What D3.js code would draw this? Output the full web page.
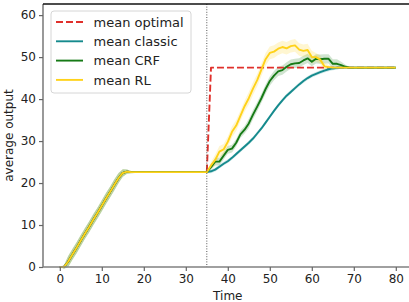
<!DOCTYPE html>
<html>
<head>
<meta charset="utf-8">
<script src="https://cdn.jsdelivr.net/npm/d3@7"></script>
<style>
  html, body { margin: 0; padding: 0; background: #fff; }
  svg { display: block; }
  svg text { font-family: 'DejaVu Sans'; }
</style>
</head>
<body>
<div id="chart"></div>
<script>
// time steps 0..80
const times = d3.range(0, 81);
const xTicks = [0, 10, 20, 30, 40, 50, 60, 70, 80];
const yTicks = [0, 10, 20, 30, 40, 50, 60];
const switchTime = 35;

// shared warm-up phase (t = 0..35)
const warmup = [0, 0, 1.3, 3.0, 4.6, 6.3, 8.0, 9.6, 11.3, 12.9, 14.6, 16.3, 17.9, 19.6, 21.2, 22.4, 22.7, 22.6,
  22.6, 22.6, 22.6, 22.6, 22.6, 22.6, 22.6, 22.6, 22.6, 22.6, 22.6, 22.6, 22.6, 22.6, 22.6, 22.6, 22.6, 22.6];
const warmupErr = [0, 0.4, 1.3, 1.3, 1.3, 1.3, 1.3, 1.3, 1.3, 1.3, 1.3, 1.3, 1.3, 1.3, 1.2, 0.9, 0.5,
  0.25, 0.2, 0.2, 0.2, 0.2, 0.2, 0.2, 0.2, 0.2, 0.2, 0.2, 0.2, 0.2, 0.2, 0.2, 0.2, 0.2, 0.2, 0.2];

// after the switch (t = 36..80)
const optimalPost = [47.5, 47.5, 47.5, 47.5, 47.5, 47.5, 47.5, 47.5, 47.5, 47.5, 47.5, 47.5, 47.5, 47.5, 47.5,
  47.5, 47.5, 47.5, 47.5, 47.5, 47.5, 47.5, 47.5, 47.5, 47.5, 47.5, 47.5, 47.5, 47.5, 47.5,
  47.5, 47.5, 47.5, 47.5, 47.5, 47.5, 47.5, 47.5, 47.5, 47.5, 47.5, 47.5, 47.5, 47.5, 47.5];
const classicPost = [22.8, 23.2, 23.9, 24.6, 25.2, 26.0, 26.9, 27.8, 28.7, 29.6,
  30.6, 31.8, 33.0, 34.4, 35.8, 37.2, 38.5, 39.7, 40.8, 41.7,
  42.6, 43.5, 44.3, 45.0, 45.6, 46.0, 46.4, 46.8, 47.1, 47.3,
  47.45, 47.5, 47.5, 47.5, 47.5, 47.5, 47.5, 47.5, 47.5, 47.5, 47.5, 47.5, 47.5, 47.5, 47.5];
const crfPost = [23.8, 25.1, 25.1, 26.5, 27.9, 28.2, 29.6, 31.6, 32.7, 34.2,
  36.3, 38.2, 40.2, 42.4, 44.3, 45.6, 46.6, 46.9, 47.7, 48.3,
  48.5, 48.6, 49.2, 49.7, 48.9, 49.6, 49.5, 49.6, 49.6, 48.4,
  48.4, 48.1, 47.7, 47.5, 47.5, 47.5, 47.5, 47.5, 47.5, 47.5, 47.5, 47.5, 47.5, 47.5, 47.5];
const rlPost = [24.2, 25.5, 27.5, 28.0, 29.8, 32.2, 33.7, 36.0, 38.3, 40.2,
  42.5, 44.5, 47.0, 49.5, 51.0, 51.3, 52.0, 52.4, 52.1, 52.6,
  52.8, 51.8, 51.5, 51.7, 50.0, 50.0, 49.4, 47.8, 47.6, 47.5,
  47.5, 47.5, 47.5, 47.5, 47.5, 47.5, 47.5, 47.5, 47.5, 47.5, 47.5, 47.5, 47.5, 47.5, 47.5];

// std bands after the switch
const classicErr = [0.45, 0.45, 0.45, 0.45, 0.45, 0.45, 0.45, 0.45, 0.45, 0.45, 0.45, 0.45, 0.45, 0.45, 0.45, 0.45,
  0.45, 0.45, 0.45, 0.45, 0.45, 0.45, 0.45, 0.45, 0.45, 0.45, 0.45, 0.45, 0.45, 0.45, 0.45,
  0.15, 0.15, 0.15, 0.15, 0.15, 0.15, 0.15, 0.15, 0.15, 0.15, 0.15, 0.15, 0.15, 0.15];
const crfErr = [0.6, 0.9, 0.9, 0.9, 0.9, 0.9, 0.9, 0.9, 0.9,
  1.1, 1.1, 1.1, 1.1, 1.1, 1.1, 1.1, 1.1, 1.1, 1.1, 1.1, 1.1, 1.1, 1.1, 1.1, 1.1, 1.1, 1.1, 1.1, 1.1, 1.1, 1.1,
  0.8, 0.5, 0.15, 0.15, 0.15, 0.15, 0.15, 0.15, 0.15, 0.15, 0.15, 0.15, 0.15, 0.15];
const rlErr = [0.8, 1.3, 1.3, 1.3, 1.3, 1.3, 1.3, 1.3, 1.3,
  1.5, 1.5, 1.5, 1.5, 1.5, 1.5, 1.5, 1.5, 1.5, 1.5, 1.5, 1.5, 1.5, 1.5, 1.5, 1.5,
  1.0, 1.0, 1.0, 0.5, 0.15, 0.15, 0.15, 0.15, 0.15, 0.15, 0.15, 0.15, 0.15, 0.15, 0.15, 0.15, 0.15, 0.15, 0.15, 0.15];

const seriesNames = ["mean optimal", "mean classic", "mean CRF", "mean RL"];
const seriesColors = ["#e0302b", "#158a8d", "#167a16", "#ffd21a"];

const series = [
  { name: seriesNames[0], color: seriesColors[0], dash: "7,3", values: warmup.concat(optimalPost), err: null },
  { name: seriesNames[1], color: seriesColors[1], dash: null, values: warmup.concat(classicPost), err: warmupErr.concat(classicErr) },
  { name: seriesNames[2], color: seriesColors[2], dash: null, values: warmup.concat(crfPost), err: warmupErr.concat(crfErr) },
  { name: seriesNames[3], color: seriesColors[3], dash: null, values: warmup.concat(rlPost), err: warmupErr.concat(rlErr) }
];

const W = 409, H = 302;
const plotLeft = 43, plotRight = 412.6, plotTop = 4, plotBottom = 267;
const FONT = "DejaVu Sans";

const svg = d3.select("#chart").append("svg")
  .attr("width", W)
  .attr("height", H);

const x = d3.scaleLinear().domain([-4, 84]).range([plotLeft, plotRight]);
const y = d3.scaleLinear().domain([0, 62.65]).range([plotBottom, plotTop]);

// bands
const area = d3.area()
  .x((d, i) => x(times[i]))
  .y0(d => y(d[0] - d[1]))
  .y1(d => y(d[0] + d[1]));
series.filter(s => s.err).forEach(s => {
  svg.append("path")
    .datum(s.values.map((v, i) => [v, s.err[i]]))
    .attr("d", area)
    .attr("fill", s.color)
    .attr("fill-opacity", 0.2);
});

// lines
const line = d3.line()
  .x((d, i) => x(times[i]))
  .y(d => y(d));
series.forEach(s => {
  svg.append("path")
    .datum(s.values)
    .attr("d", line)
    .attr("fill", "none")
    .attr("stroke", s.color)
    .attr("stroke-width", 1.9)
    .attr("stroke-dasharray", s.dash)
    .attr("stroke-linejoin", "round");
});

// switch marker
svg.append("line")
  .attr("x1", x(switchTime)).attr("x2", x(switchTime))
  .attr("y1", plotTop).attr("y2", plotBottom)
  .attr("stroke", "#555")
  .attr("stroke-width", 1)
  .attr("stroke-dasharray", "1,1.6");

// axes
const xAxis = svg.append("g")
  .attr("transform", `translate(0,${plotBottom})`)
  .call(d3.axisBottom(x).tickValues(xTicks).tickSize(4).tickPadding(3));
const yAxis = svg.append("g")
  .attr("transform", `translate(${plotLeft},0)`)
  .call(d3.axisLeft(y).tickValues(yTicks).tickSize(4).tickPadding(3));
[xAxis, yAxis].forEach(g => {
  g.attr("font-family", FONT).attr("font-size", 12);
  g.select(".domain").attr("stroke", "#808080").attr("stroke-width", 1.6);
  g.selectAll(".tick line").attr("stroke", "#666").attr("stroke-width", 1.2);
  g.selectAll(".tick text").attr("fill", "#222");
});
xAxis.select(".domain").attr("d", `M${plotLeft},0H${W}`);
yAxis.select(".domain").attr("d", `M0,${plotBottom}V${plotTop}`);

// top spine
svg.append("line")
  .attr("x1", plotLeft).attr("x2", W)
  .attr("y1", plotTop).attr("y2", plotTop)
  .attr("stroke", "#111")
  .attr("stroke-width", 1.3);

// axis labels
svg.append("text")
  .attr("x", (plotLeft + plotRight) / 2).attr("y", 299.5)
  .attr("text-anchor", "middle")
  .attr("font-family", FONT)
  .attr("font-size", 12).attr("fill", "#222")
  .text("Time");
svg.append("text")
  .attr("transform", `translate(12.5,${(plotTop + plotBottom) / 2}) rotate(-90)`)
  .attr("text-anchor", "middle")
  .attr("font-family", FONT)
  .attr("font-size", 12).attr("fill", "#222")
  .text("average output");

// legend
const legend = svg.append("g");
legend.append("rect")
  .attr("x", 51).attr("y", 11)
  .attr("width", 140).attr("height", 82)
  .attr("rx", 3)
  .attr("fill", "#fff").attr("fill-opacity", 0.8)
  .attr("stroke", "#d6d6d6").attr("stroke-width", 1);
series.forEach((s, i) => {
  const cy = 22 + i * 19.3;
  legend.append("line")
    .attr("x1", 56).attr("x2", 83)
    .attr("y1", cy).attr("y2", cy)
    .attr("stroke", s.color)
    .attr("stroke-width", 1.9)
    .attr("stroke-dasharray", s.dash);
  legend.append("text")
    .attr("x", 93.5).attr("y", cy + 4.6)
    .attr("font-family", FONT)
    .attr("font-size", 13).attr("fill", "#222")
    .text(s.name);
});
</script>
</body>
</html>
